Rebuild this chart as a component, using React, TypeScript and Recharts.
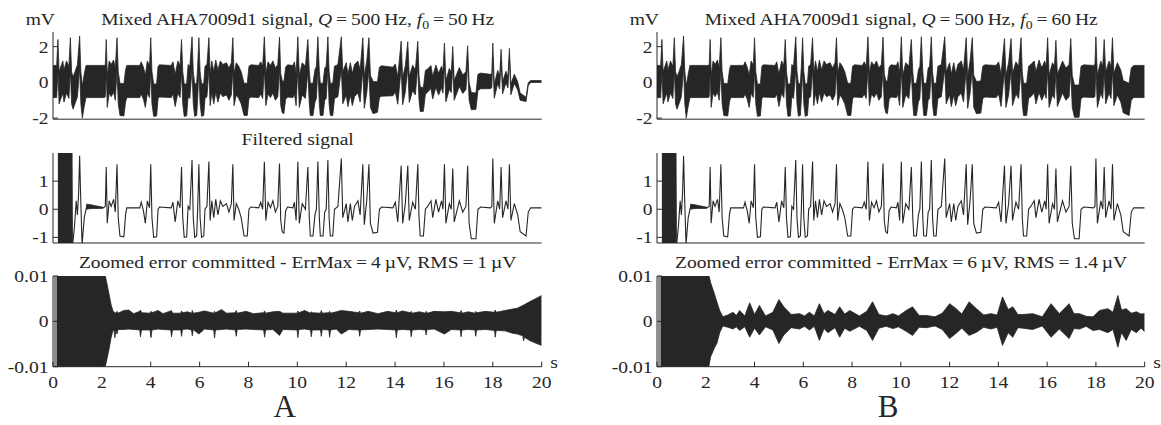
import React from 'react'
import { ComposedChart, Line, Area, XAxis, YAxis } from 'recharts'

const FONT = 'Liberation Serif, Times New Roman, serif'
const INK = '#262626'
const SX = 1.15

// axes
const timeTicks = [0, 2, 4, 6, 8, 10, 12, 14, 16, 18, 20]
const mixTicks = [-2, 0, 2]
const filtTicks = [-1, 0, 1]
const errTicks = [-0.01, 0, 0.01]

// filtered ECG (same in A and B), [t s, mV]
const filtered: [number, number][] = [
  [0.8, -1.3], [0.88, -0.6], [0.95, 0.3], [1.0, -0.2], [1.05, 0.6], [1.09, 1.9], [1.13, 0.5], [1.19, -1.25],
  [1.28, -0.3], [1.38, 0.1], [2.05, 0.05], [2.14, 0.1], [2.18, 1.5], [2.22, -0.5], [2.3, 0.3], [2.38, 0.1],
  [2.48, 0.35], [2.55, -0.1], [2.62, 1.6], [2.67, -0.3], [2.74, -0.95], [2.9, -0.98], [2.97, -0.2], [3.02, 0.05],
  [3.55, 0.05], [3.61, 0.25], [3.7, -0.05], [3.78, -0.5], [3.86, 0.3], [3.95, 0.05], [4.0, 1.6], [4.05, -0.3],
  [4.12, -1.0], [4.24, -0.98], [4.3, 0.0], [4.36, 0.08], [4.84, 0.05], [4.91, 0.25], [5.0, -0.45], [5.11, 0.3],
  [5.2, 0.05], [5.26, 1.5], [5.31, -0.3], [5.37, -1.0], [5.47, -0.98], [5.53, 0.1], [5.6, 0.0], [5.69, 1.75],
  [5.74, -0.3], [5.8, -1.0], [5.88, -0.95], [5.92, 0.0], [5.97, 1.6], [6.02, -0.3], [6.08, -1.0], [6.17, -0.95],
  [6.22, 0.0], [6.3, 0.1], [6.38, 1.7], [6.43, -0.4], [6.5, 0.3], [6.58, -0.3], [6.66, 0.35], [6.75, -0.2],
  [6.85, 0.3], [6.95, 0.1], [7.1, 0.2], [7.2, -0.1], [7.3, 0.2], [7.36, 1.6], [7.41, -0.4], [7.5, 0.2],
  [7.6, 0.0], [7.7, -0.3], [7.82, -0.95], [7.95, -0.95], [8.02, 0.0], [8.1, 0.08], [8.42, 0.05], [8.5, 0.25],
  [8.58, 0.0], [8.65, 1.69], [8.71, -0.4], [8.8, 0.25], [8.9, 0.05], [9.0, 0.3], [9.1, -0.1], [9.2, 0.1],
  [9.27, 1.63], [9.32, -0.4], [9.38, -0.8], [9.45, -0.85], [9.52, -0.05], [9.6, 0.08], [9.82, 0.05], [9.88, 0.25],
  [9.95, -0.4], [10.02, 1.69], [10.08, -0.5], [10.2, 0.2], [10.33, 0.0], [10.43, 1.5], [10.49, -0.3], [10.53, -0.95],
  [10.64, -0.95], [10.72, -0.2], [10.78, 0.0], [10.84, 1.7], [10.9, -0.3], [10.94, -0.95], [11.05, -0.95], [11.12, -0.1],
  [11.18, 0.0], [11.25, 1.75], [11.3, -0.3], [11.35, -0.95], [11.45, -0.95], [11.52, 0.0], [11.66, 0.1], [11.8, 1.8],
  [11.86, -0.3], [12.0, 0.2], [12.07, -0.45], [12.17, 0.2], [12.25, -0.4], [12.34, 0.1], [12.48, 0.3], [12.57, -0.2],
  [12.68, 1.6], [12.74, -0.55], [12.84, 0.3], [12.93, 1.6], [12.99, -0.5], [13.1, -0.85], [13.28, -0.82], [13.36, 0.0],
  [13.45, 0.08], [13.91, 0.05], [14.01, 0.25], [14.11, -0.45], [14.25, 1.55], [14.31, -0.5], [14.42, 0.2], [14.52, 1.55],
  [14.58, -0.4], [14.72, 0.25], [14.83, 0.0], [14.93, 1.6], [14.98, -0.3], [15.03, -0.95], [15.16, -0.95], [15.24, 0.0],
  [15.33, 0.1], [15.47, 0.3], [15.54, -0.3], [15.67, 0.35], [15.78, -0.1], [15.9, 0.3], [15.96, 0.0], [16.02, 1.6],
  [16.08, -0.5], [16.22, 0.2], [16.3, 0.0], [16.36, 1.45], [16.42, -0.45], [16.63, 0.3], [16.77, -0.1], [16.9, 0.1],
  [16.97, 1.55], [17.03, -0.5], [17.12, -1.05], [17.31, -1.05], [17.39, 0.0], [17.5, 0.08], [17.9, 0.05], [17.96, 0.1],
  [18.0, 1.8], [18.06, -0.5], [18.2, 0.3], [18.28, 0.0], [18.34, 1.5], [18.4, -0.3], [18.54, 0.3], [18.62, 0.0],
  [18.68, 1.6], [18.74, -0.4], [18.88, 0.2], [19.02, -0.2], [19.12, -0.8], [19.36, -0.95], [19.45, -0.1], [19.55, 0.05],
  [20.0, 0.05],
]

// start-up transient of the filter, [t, low, high]
const transient: [number, number, number][] = [
  [0.2, -1.4, 2.2], [0.78, -1.4, 2.2], [0.8, -1.4, -1.2],
]
const ringing: [number, number, number][] = [
  [1.36, 0.0, 0.18], [1.5, 0.02, 0.17], [1.7, 0.03, 0.13], [1.9, 0.03, 0.1], [2.05, 0.04, 0.07],
]

// mixed signal envelopes, [t, low, high] in mV
const mixB: [number, number, number][] = [
  [0, -0.85, 0.95], [0.15, -0.85, 0.95], [0.2, 0.6, 2.4], [0.25, -1.2, 0.6], [0.35, -0.8, 1.0], [0.4, -0.6, 1.2],
  [0.45, -1.1, 0.7], [0.55, -0.6, 1.2], [0.65, -0.9, 0.9], [0.71, 0.7, 2.5], [0.76, -1.2, 0.6], [0.82, -1.5, 0.3],
  [0.9, -1.2, 0.6], [1.0, -0.8, 1.0], [1.09, 0.8, 2.6], [1.14, -1.2, 0.6], [1.2, -2.0, -0.2], [1.27, -1.4, 0.4],
  [1.35, -0.85, 0.95], [2.1, -0.85, 0.95], [2.14, -0.8, 1.0], [2.18, 0.6, 2.4], [2.22, -1.4, 0.4], [2.3, -0.6, 1.2],
  [2.38, -0.8, 1.0], [2.48, -0.55, 1.25], [2.55, -1.0, 0.8], [2.62, 0.7, 2.5], [2.67, -1.2, 0.6], [2.74, -1.85, -0.05],
  [2.9, -1.88, -0.08], [2.97, -1.1, 0.7], [3.02, -0.85, 0.95], [3.55, -0.85, 0.95], [3.61, -0.65, 1.15], [3.7, -0.95, 0.85],
  [3.78, -1.4, 0.4], [3.86, -0.6, 1.2], [3.95, -0.85, 0.95], [4.0, 0.7, 2.5], [4.05, -1.2, 0.6], [4.12, -1.9, -0.1],
  [4.24, -1.88, -0.08], [4.3, -0.9, 0.9], [4.36, -0.82, 0.98], [4.84, -0.85, 0.95], [4.91, -0.65, 1.15], [5.0, -1.35, 0.45],
  [5.11, -0.6, 1.2], [5.2, -0.85, 0.95], [5.26, 0.6, 2.4], [5.31, -1.2, 0.6], [5.37, -1.9, -0.1], [5.47, -1.88, -0.08],
  [5.53, -0.8, 1.0], [5.6, -0.9, 0.9], [5.69, 0.75, 2.55], [5.74, -1.2, 0.6], [5.8, -1.9, -0.1], [5.88, -1.85, -0.05],
  [5.92, -0.9, 0.9], [5.97, 0.7, 2.5], [6.02, -1.2, 0.6], [6.08, -1.9, -0.1], [6.17, -1.85, -0.05], [6.22, -0.9, 0.9],
  [6.3, -0.8, 1.0], [6.38, 0.7, 2.5], [6.43, -1.3, 0.5], [6.5, -0.6, 1.2], [6.58, -1.2, 0.6], [6.66, -0.55, 1.25],
  [6.75, -1.1, 0.7], [6.85, -0.6, 1.2], [6.95, -0.8, 1.0], [7.1, -0.7, 1.1], [7.2, -1.0, 0.8], [7.3, -0.7, 1.1],
  [7.36, 0.7, 2.5], [7.41, -1.3, 0.5], [7.5, -0.7, 1.1], [7.6, -0.9, 0.9], [7.7, -1.2, 0.6], [7.82, -1.85, -0.05],
  [7.95, -1.85, -0.05], [8.02, -0.9, 0.9], [8.1, -0.82, 0.98], [8.42, -0.85, 0.95], [8.5, -0.65, 1.15], [8.58, -0.9, 0.9],
  [8.65, 0.75, 2.55], [8.71, -1.3, 0.5], [8.8, -0.65, 1.15], [8.9, -0.85, 0.95], [9.0, -0.6, 1.2], [9.1, -1.0, 0.8],
  [9.2, -0.8, 1.0], [9.27, 0.73, 2.53], [9.32, -1.3, 0.5], [9.38, -1.7, 0.1], [9.45, -1.75, 0.05], [9.52, -0.95, 0.85],
  [9.6, -0.82, 0.98], [9.82, -0.85, 0.95], [9.88, -0.65, 1.15], [9.95, -1.3, 0.5], [10.02, 0.75, 2.55], [10.08, -1.4, 0.4],
  [10.2, -0.7, 1.1], [10.33, -0.9, 0.9], [10.43, 0.6, 2.4], [10.49, -1.2, 0.6], [10.53, -1.85, -0.05], [10.64, -1.85, -0.05],
  [10.72, -1.1, 0.7], [10.78, -0.9, 0.9], [10.84, 0.75, 2.55], [10.9, -1.2, 0.6], [10.94, -1.85, -0.05], [11.05, -1.85, -0.05],
  [11.12, -1.0, 0.8], [11.18, -0.9, 0.9], [11.25, 0.75, 2.55], [11.3, -1.2, 0.6], [11.35, -1.85, -0.05], [11.45, -1.85, -0.05],
  [11.52, -0.9, 0.9], [11.66, -0.8, 1.0], [11.8, 0.75, 2.55], [11.86, -1.2, 0.6], [12.0, -0.7, 1.1], [12.07, -1.35, 0.45],
  [12.17, -0.7, 1.1], [12.25, -1.3, 0.5], [12.34, -0.8, 1.0], [12.48, -0.6, 1.2], [12.57, -1.1, 0.7], [12.68, 0.7, 2.5],
  [12.74, -1.45, 0.35], [12.84, -0.6, 1.2], [12.93, 0.7, 2.5], [12.99, -1.4, 0.4], [13.1, -1.75, 0.05], [13.28, -1.72, 0.08],
  [13.36, -0.9, 0.9], [13.45, -0.82, 0.98], [13.91, -0.85, 0.95], [14.01, -0.65, 1.15], [14.11, -1.35, 0.45], [14.25, 0.65, 2.45],
  [14.31, -1.4, 0.4], [14.42, -0.7, 1.1], [14.52, 0.65, 2.45], [14.58, -1.3, 0.5], [14.72, -0.65, 1.15], [14.83, -0.9, 0.9],
  [14.93, 0.7, 2.5], [14.98, -1.2, 0.6], [15.03, -1.85, -0.05], [15.16, -1.85, -0.05], [15.24, -0.9, 0.9], [15.33, -0.8, 1.0],
  [15.47, -0.6, 1.2], [15.54, -1.2, 0.6], [15.67, -0.55, 1.25], [15.78, -1.0, 0.8], [15.9, -0.6, 1.2], [15.96, -0.9, 0.9],
  [16.02, 0.7, 2.5], [16.08, -1.4, 0.4], [16.22, -0.7, 1.1], [16.3, -0.9, 0.9], [16.36, 0.55, 2.35], [16.42, -1.35, 0.45],
  [16.63, -0.6, 1.2], [16.77, -1.0, 0.8], [16.9, -0.8, 1.0], [16.97, 0.65, 2.45], [17.03, -1.4, 0.4], [17.12, -1.95, -0.15],
  [17.31, -1.95, -0.15], [17.39, -0.9, 0.9], [17.5, -0.82, 0.98], [17.9, -0.85, 0.95], [17.96, -0.8, 1.0], [18.0, 0.75, 2.55],
  [18.06, -1.4, 0.4], [18.2, -0.6, 1.2], [18.28, -0.9, 0.9], [18.34, 0.6, 2.4], [18.4, -1.2, 0.6], [18.54, -0.6, 1.2],
  [18.62, -0.9, 0.9], [18.68, 0.7, 2.5], [18.74, -1.3, 0.5], [18.88, -0.7, 1.1], [19.02, -1.1, 0.7], [19.12, -1.7, 0.1],
  [19.36, -1.85, -0.05], [19.45, -1.0, 0.8], [19.55, -0.85, 0.95], [20.0, -0.85, 0.95],
]
// in A the interference fades out towards the end of the record
const mixA: [number, number, number][] = [
  ...mixB.filter(([t]) => t <= 13.1),
  [13.28, -1.67, 0.03], [13.36, -0.85, 0.85], [13.45, -0.77, 0.93], [13.91, -0.75, 0.85], [14.01, -0.53, 1.03],
  [14.11, -1.22, 0.32], [14.25, 0.79, 2.31], [14.31, -1.25, 0.25], [14.42, -0.54, 0.94], [14.52, 0.82, 2.28],
  [14.58, -1.12, 0.32], [14.72, -0.46, 0.96], [14.83, -0.7, 0.7], [14.93, 0.9, 2.3], [14.98, -1.0, 0.4],
  [15.03, -1.63, -0.27], [15.16, -1.62, -0.28], [15.24, -0.66, 0.66], [15.33, -0.55, 0.75], [15.47, -0.34, 0.94],
  [15.54, -0.93, 0.33], [15.67, -0.27, 0.97], [15.78, -0.71, 0.51], [15.9, -0.3, 0.9], [15.96, -0.6, 0.6],
  [16.02, 1.0, 2.2], [16.08, -1.09, 0.09], [16.22, -0.38, 0.78], [16.3, -0.57, 0.57], [16.36, 0.89, 2.01],
  [16.42, -1.0, 0.1], [16.63, -0.23, 0.83], [16.77, -0.62, 0.42], [16.9, -0.4, 0.6], [16.97, 1.05, 2.05],
  [17.03, -0.99, -0.01], [17.12, -1.53, -0.57], [17.31, -1.51, -0.59], [17.39, -0.45, 0.45], [17.5, -0.36, 0.52],
  [17.9, -0.35, 0.45], [17.96, -0.3, 0.5], [18.0, 1.4, 2.2], [18.06, -0.89, -0.11], [18.2, -0.07, 0.67],
  [18.28, -0.36, 0.36], [18.34, 1.15, 1.85], [18.4, -0.64, 0.04], [18.54, -0.02, 0.62], [18.62, -0.31, 0.31],
  [18.68, 1.3, 1.9], [18.74, -0.69, -0.11], [18.88, -0.06, 0.46], [19.02, -0.42, 0.02], [19.12, -1.0, -0.6],
  [19.36, -1.07, -0.83], [19.45, -0.18, -0.02], [19.55, 0.0, 0.1], [20.0, 0.0, 0.1],
]

// error envelopes, mV
const errGray: [number, number, number][] = [[0.04, -0.011, 0.011], [0.16, -0.011, 0.011]]
const errA: [number, number, number][] = [
  [0.16, -0.011, 0.011], [2.1, -0.011, 0.011], [2.2, -0.0085, 0.0085], [2.29, -0.0062, 0.0061], [2.38, -0.0035, 0.0036],
  [2.45, -0.0021, 0.0024], [2.5, -0.0019, 0.0019], [2.53, -0.0036, 0.002], [2.57, -0.0019, 0.0018], [2.62, -0.0028, 0.0022],
  [2.66, -0.0018, 0.0018], [2.9, -0.0018, 0.0024], [3.1, -0.0017, 0.0025], [3.3, -0.0018, 0.0017], [3.55, -0.0019, 0.0022],
  [3.58, -0.0034, 0.0025], [3.62, -0.0019, 0.0019], [3.97, -0.0019, 0.0018], [4.01, -0.0036, 0.0022], [4.05, -0.0019, 0.0019],
  [4.3, -0.0017, 0.0024], [4.5, -0.0018, 0.0017], [4.82, -0.0019, 0.0023], [4.85, -0.0034, 0.0024], [4.89, -0.0019, 0.0018],
  [5.23, -0.0019, 0.0018], [5.26, -0.0033, 0.0023], [5.3, -0.0018, 0.0019], [5.5, -0.0017, 0.0021], [5.67, -0.0019, 0.0018],
  [5.7, -0.0032, 0.0024], [5.74, -0.0018, 0.0018], [5.97, -0.0028, 0.002], [6.2, -0.0017, 0.0023], [6.58, -0.0019, 0.0018],
  [6.61, -0.0037, 0.0022], [6.65, -0.0019, 0.0019], [6.9, -0.0018, 0.0026], [7.1, -0.0017, 0.0018], [7.46, -0.0019, 0.0019],
  [7.5, -0.0033, 0.0024], [7.54, -0.0018, 0.0018], [7.9, -0.0017, 0.0022], [8.2, -0.0018, 0.0017], [8.62, -0.0019, 0.0019],
  [8.66, -0.0035, 0.0023], [8.7, -0.0019, 0.0018], [9.0, -0.0018, 0.0021], [9.27, -0.0031, 0.0022], [9.41, -0.0018, 0.0018],
  [9.99, -0.0019, 0.0018], [10.02, -0.0036, 0.0023], [10.06, -0.0018, 0.0019], [10.3, -0.0017, 0.0024], [10.54, -0.0019, 0.0018],
  [10.57, -0.0034, 0.0021], [10.61, -0.0019, 0.0019], [10.95, -0.0019, 0.0018], [10.98, -0.0033, 0.0024], [11.02, -0.0018, 0.0018],
  [11.29, -0.0019, 0.0019], [11.32, -0.0035, 0.0022], [11.36, -0.0019, 0.0018], [11.6, -0.0017, 0.0021], [11.8, -0.0028, 0.0024],
  [12.1, -0.0018, 0.0022], [12.52, -0.0019, 0.0019], [12.55, -0.0033, 0.0023], [12.59, -0.0019, 0.0018], [12.9, -0.0018, 0.0022],
  [13.3, -0.0017, 0.0017], [13.7, -0.0018, 0.0022], [14.02, -0.0019, 0.0019], [14.05, -0.0036, 0.0025], [14.09, -0.0019, 0.0019],
  [14.3, -0.0018, 0.0023], [14.63, -0.0019, 0.0019], [14.66, -0.0034, 0.0022], [14.7, -0.0019, 0.0018], [15.0, -0.0018, 0.0021],
  [15.24, -0.0019, 0.0018], [15.27, -0.003, 0.0022], [15.31, -0.0018, 0.0018], [15.6, -0.0017, 0.0022], [16.02, -0.0028, 0.0021],
  [16.3, -0.0018, 0.0022], [16.67, -0.0019, 0.0019], [16.7, -0.0034, 0.0024], [16.74, -0.0019, 0.0018], [17.0, -0.0018, 0.0021],
  [17.27, -0.0019, 0.0018], [17.3, -0.0033, 0.0022], [17.34, -0.0019, 0.0019], [17.7, -0.0018, 0.0022], [18.07, -0.002, 0.002],
  [18.1, -0.0035, 0.0025], [18.14, -0.002, 0.002], [18.5, -0.0021, 0.0024], [18.8, -0.0026, 0.0027], [19.0, -0.0028, 0.0029],
  [19.23, -0.0032, 0.0035], [19.26, -0.0043, 0.0036], [19.3, -0.0035, 0.0037], [19.5, -0.0042, 0.0043], [19.75, -0.0048, 0.005],
  [20.0, -0.0053, 0.0057],
]
const errB: [number, number, number][] = [
  [0.16, -0.011, 0.011], [2.09, -0.011, 0.011], [2.2, -0.0078, 0.0085], [2.36, -0.0058, 0.006], [2.46, -0.0048, 0.0042],
  [2.57, -0.0025, 0.0024], [2.7, -0.001, 0.001], [2.9, -0.0013, 0.0014], [3.12, -0.0017, 0.002], [3.25, -0.0012, 0.0013],
  [3.39, -0.002, 0.0024], [3.6, -0.0012, 0.0012], [3.8, -0.0035, 0.0041], [4.0, -0.0015, 0.0015], [4.2, -0.003, 0.0035],
  [4.45, -0.0012, 0.0012], [4.75, -0.0019, 0.002], [5.0, -0.0049, 0.0048], [5.2, -0.003, 0.0032], [5.5, -0.0014, 0.0015],
  [5.84, -0.0017, 0.0017], [6.05, -0.0011, 0.0012], [6.25, -0.0019, 0.002], [6.45, -0.0011, 0.0012], [6.66, -0.0042, 0.0039],
  [6.85, -0.0016, 0.0017], [7.01, -0.0025, 0.0024], [7.3, -0.0014, 0.0015], [7.49, -0.0035, 0.0032], [7.7, -0.0015, 0.0016],
  [7.9, -0.0022, 0.0024], [8.3, -0.0011, 0.0012], [8.6, -0.002, 0.0022], [8.84, -0.0042, 0.0043], [9.1, -0.0015, 0.0015],
  [9.4, -0.0011, 0.0012], [9.68, -0.0016, 0.0017], [9.9, -0.0012, 0.0012], [10.22, -0.0022, 0.0024], [10.48, -0.0031, 0.0032],
  [10.75, -0.0013, 0.0013], [11.05, -0.0014, 0.0013], [11.4, -0.001, 0.001], [11.7, -0.0018, 0.0018], [12.0, -0.0038, 0.0039],
  [12.27, -0.0026, 0.0028], [12.5, -0.0015, 0.0016], [12.8, -0.0031, 0.0043], [13.1, -0.0024, 0.0028], [13.4, -0.0013, 0.0014],
  [13.7, -0.0017, 0.0017], [13.95, -0.0013, 0.0014], [14.17, -0.0053, 0.0054], [14.4, -0.0025, 0.0026], [14.59, -0.0035, 0.0032],
  [14.8, -0.0014, 0.0015], [15.0, -0.0015, 0.0015], [15.41, -0.0018, 0.0017], [15.8, -0.001, 0.001], [16.16, -0.0035, 0.0039],
  [16.5, -0.0017, 0.0017], [16.9, -0.0038, 0.0039], [17.1, -0.0016, 0.0017], [17.33, -0.0017, 0.0017], [17.6, -0.0011, 0.0011],
  [17.88, -0.002, 0.001], [18.15, -0.0018, 0.0024], [18.49, -0.0025, 0.0028], [18.7, -0.0018, 0.002], [18.9, -0.0057, 0.0057],
  [19.05, -0.0025, 0.0025], [19.24, -0.0042, 0.0028], [19.45, -0.0018, 0.0018], [19.66, -0.0025, 0.0021], [19.85, -0.0015, 0.0016],
  [20.0, -0.0023, 0.0017],
]

const band = (rows: [number, number, number][]) => rows.map(([t, lo, hi]) => ({ t, r: [lo, hi] }))
const pts = (rows: [number, number][]) => rows.map(([t, v]) => ({ t, v }))

const fmtY = (v: number) => (v < 0 ? '-' + String(Math.abs(v)) : String(v))

const yTick = (p: any) => (
  <text
    transform={`translate(${p.x},${p.y}) scale(${SX},1)`}
    textAnchor="end"
    dy="0.35em"
    fontFamily={FONT}
    fontSize={17}
    fill={INK}
  >
    {fmtY(p.payload.value)}
  </text>
)
const xTick = (p: any) => (
  <text
    transform={`translate(${p.x},${p.y}) scale(${SX},1)`}
    textAnchor="middle"
    dy="0.71em"
    fontFamily={FONT}
    fontSize={17}
    fill={INK}
  >
    {p.payload.value}
  </text>
)

type PanelProps = {
  left: number
  top: number
  width: number
  height: number
  domain: [number, number]
  ticks: number[]
  showX?: boolean
  children: React.ReactNode
}

const PL = 55
const PR = 22
const PT = 14
const PB = 32

const Panel = ({ left, top, width, height, domain, ticks, showX, children }: PanelProps) => (
  <div style={{ position: 'absolute', left: left - PL, top: top - PT }}>
    <ComposedChart
      width={width + PL + PR}
      height={height + PT + PB}
      margin={{ top: PT, right: PR, bottom: 2, left: PL - 45 }}
    >
      <XAxis
        dataKey="t"
        type="number"
        domain={[0, 20]}
        ticks={timeTicks}
        interval={0}
        allowDataOverflow
        height={30}
        tickSize={-5}
        tickMargin={14.5}
        stroke={INK}
        tick={showX ? xTick : false}
      />
      <XAxis
        xAxisId="top"
        orientation="top"
        type="number"
        domain={[0, 20]}
        ticks={timeTicks}
        height={0}
        tickSize={-5}
        stroke={INK}
        tick={false}
      />
      <YAxis
        type="number"
        domain={domain}
        ticks={ticks}
        interval={0}
        allowDataOverflow
        width={45}
        tickSize={-5}
        tickMargin={9.5}
        stroke={INK}
        tick={yTick}
      />
      <YAxis
        yAxisId="right"
        orientation="right"
        type="number"
        domain={domain}
        ticks={ticks}
        width={0}
        tickSize={-5}
        stroke={INK}
        tick={false}
      />
      {children}
    </ComposedChart>
  </div>
)

const bandArea = (rows: [number, number, number][], fill: string = INK) => (
  <Area
    data={band(rows)}
    dataKey="r"
    type="linear"
    stroke={fill}
    strokeWidth={0.8}
    fill={fill}
    fillOpacity={1}
    isAnimationActive={false}
    dot={false}
    activeDot={false}
  />
)

const Title = ({ x, y, children }: { x: number; y: number; children: React.ReactNode }) => (
  <text
    transform={`translate(${x},${y}) scale(${SX},1)`}
    textAnchor="middle"
    fontFamily={FONT}
    fontSize={17}
    fill={INK}
  >
    {children}
  </text>
)

const mixTitle = (f0: string) => (
  <>
    Mixed AHA7009d1 signal, <tspan fontStyle="italic">Q</tspan>{'\u2009=\u2009500\u2009Hz, '}
    <tspan fontStyle="italic">f</tspan>
    <tspan fontSize={12} dy={4}>0</tspan>
    <tspan dy={-4}>{'\u2009=\u2009' + f0 + '\u2009Hz'}</tspan>
  </>
)

const COLS = [
  { left: 53.3, width: 488.7, mix: mixA, err: errA, f0: '50', errText: 'ErrMax\u2009=\u20094\u2009\u00b5V, RMS\u2009=\u20091\u2009\u00b5V', tag: 'A' },
  { left: 657.3, width: 487.7, mix: mixB, err: errB, f0: '60', errText: 'ErrMax\u2009=\u20096\u2009\u00b5V, RMS\u2009=\u20091.4\u2009\u00b5V', tag: 'B' },
]

export default function App() {
  return (
    <div style={{ position: 'absolute', left: 0, top: 0, width: 1161, height: 425, background: '#fff' }}>
      {COLS.map((c) => (
        <React.Fragment key={c.tag}>
          <Panel left={c.left} top={32.3} width={c.width} height={87.2} domain={[-2.06, 2.82]} ticks={mixTicks}>
            {bandArea(c.mix)}
          </Panel>
          <Panel left={c.left} top={153.3} width={c.width} height={90} domain={[-1.2, 2.0]} ticks={filtTicks}>
            {bandArea(transient)}
            {bandArea(ringing)}
            <Line
              data={pts(filtered)}
              dataKey="v"
              type="linear"
              stroke={INK}
              strokeWidth={1.1}
              dot={false}
              activeDot={false}
              isAnimationActive={false}
            />
          </Panel>
          <Panel left={c.left} top={276} width={c.width} height={90.7} domain={[-0.01, 0.01]} ticks={errTicks} showX>
            {bandArea(errGray, '#8c8c8c')}
            {bandArea(c.err)}
          </Panel>
        </React.Fragment>
      ))}
      <svg width={1161} height={425} style={{ position: 'absolute', left: 0, top: 0, pointerEvents: 'none' }}>
        {COLS.map((c) => {
          const cx = c.left + c.width / 2
          return (
            <g key={c.tag}>
              <Title x={cx} y={25}>{mixTitle(c.f0)}</Title>
              <Title x={c.left - 13} y={25}>mV</Title>
              {c.tag === 'A' && <Title x={cx} y={145}>Filtered signal</Title>}
              <Title x={cx} y={268}>{'Zoomed error committed - ' + c.errText}</Title>
              <Title x={c.left + c.width + 12} y={368}>s</Title>
              <text x={cx - 13} y={417} textAnchor="middle" fontFamily={FONT} fontSize={31} fill={INK}>
                {c.tag}
              </text>
            </g>
          )
        })}
      </svg>
    </div>
  )
}
